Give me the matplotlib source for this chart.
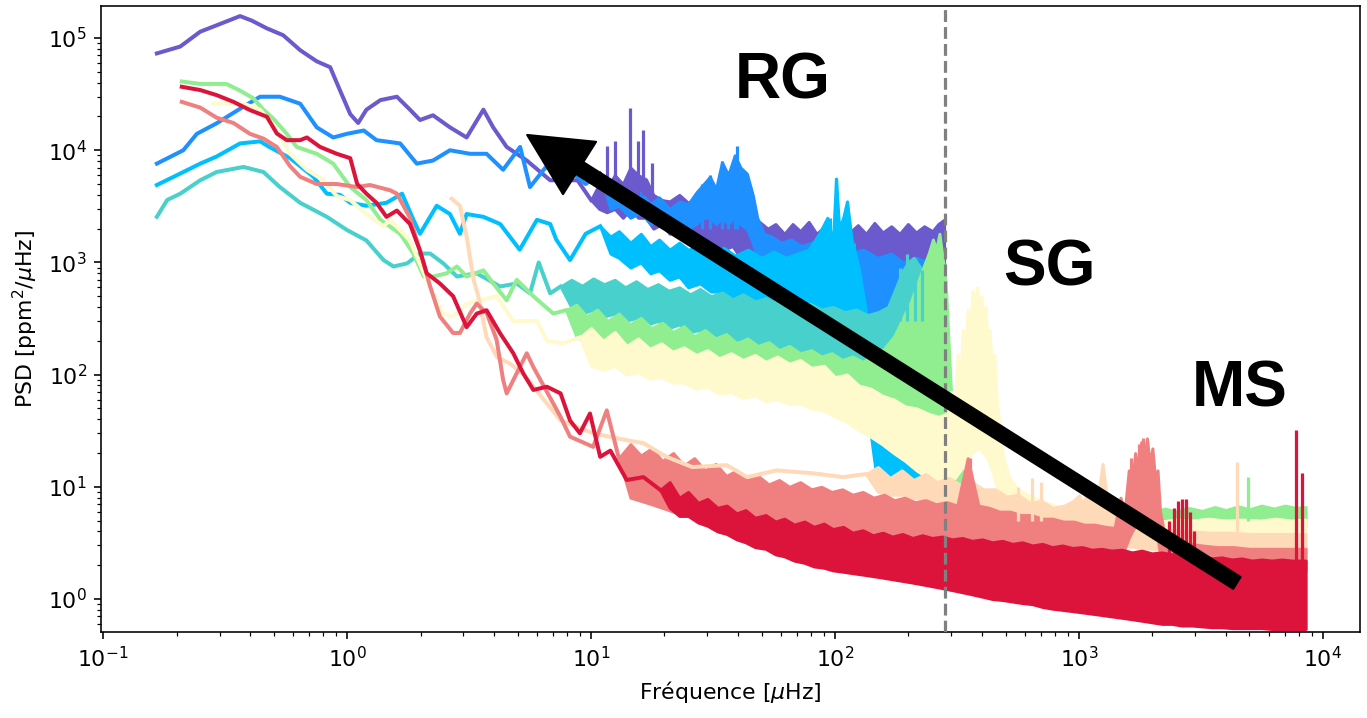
import matplotlib
matplotlib.use("Agg")
import matplotlib.pyplot as plt

# ---- colours, one per star (drawn in this order)
colors = ['slateblue', 'dodgerblue', 'deepskyblue', 'mediumturquoise',
          'lightgreen', 'lemonchiffon', 'peachpuff', 'lightcoral', 'crimson']

# ---- smoothed low-frequency part of each spectrum (freq in muHz, PSD)
purple_f = [0.166, 0.207, 0.25, 0.292, 0.364, 0.407, 0.469, 0.547, 0.642, 0.751, 0.852, 0.936, 1.03, 1.11,
            1.2, 1.37, 1.6, 1.81, 1.99, 2.25, 2.64, 3.09, 3.62, 3.97, 4.51, 5.45, 6.8, 8.8, 10]
purple_p = [7.3e4, 8.4e4, 1.14e5, 1.3e5, 1.57e5, 1.43e5, 1.22e5, 1.06e5, 7.8e4, 6.2e4, 5.5e4, 3.4e4, 2.1e4, 1.75e4,
            2.3e4, 2.8e4, 3e4, 2.3e4, 1.86e4, 2.05e4, 1.6e4, 1.3e4, 2.3e4, 1.6e4, 1.07e4, 8.1e3, 5.4e3, 5.4e3, 3.6e3]

dodger_f = [0.166, 0.213, 0.242, 0.292, 0.376, 0.44, 0.53, 0.642, 0.751, 0.877, 0.997, 1.17, 1.32, 1.65, 1.93,
            2.25, 2.64, 3.19, 3.73, 4.36, 5.12, 5.62, 6.5, 7.95, 9.5, 10.9]
dodger_p = [7.6e3, 1e4, 1.4e4, 1.74e4, 2.45e4, 3e4, 3e4, 2.6e4, 1.6e4, 1.3e4, 1.4e4, 1.5e4, 1.23e4, 1.15e4, 7.6e3,
            8.1e3, 1e4, 9.3e3, 9.3e3, 6.7e3, 1.07e4, 4.7e3, 7e3, 7e3, 5e3, 6.2e3]

deepsky_f = [0.166, 0.207, 0.25, 0.292, 0.364, 0.44, 0.48, 0.584, 0.728, 0.826, 0.936, 1.03, 1.2, 1.45, 1.68,
             1.87, 1.99, 2.33, 2.64, 2.9, 3.09, 3.62, 4.24, 5.1, 6.0, 6.8, 7.2, 8.2, 9.5, 10.9]
deepsky_p = [4.9e3, 6.2e3, 7.6e3, 8.8e3, 1.15e4, 1.2e4, 1.07e4, 8.5e3, 5.8e3, 4.1e3, 4e3, 3.4e3, 3.2e3, 3.4e3, 4.1e3,
             2.4e3, 1.8e3, 3.2e3, 2.7e3, 1.8e3, 2.7e3, 2.55e3, 2.2e3, 1.3e3, 2.4e3, 2.2e3, 1.6e3, 1.05e3, 1.8e3, 2.1e3]

turq_f = [0.166, 0.183, 0.207, 0.25, 0.292, 0.376, 0.454, 0.53, 0.642, 0.826, 0.997, 1.2, 1.41, 1.55, 1.76,
          1.99, 2.19, 2.48, 2.82, 3.4, 4.24, 4.96, 5.62, 6.1, 6.8, 7.5]
turq_p = [2.55e3, 3.6e3, 4.1e3, 5.4e3, 6.4e3, 7.1e3, 6.4e3, 4.7e3, 3.4e3, 2.55e3, 1.95e3, 1.57e3, 1.05e3, 920, 980,
          1.2e3, 1.2e3, 980, 750, 800, 610, 650, 530, 1.0e3, 530, 610]

green_f = [0.21, 0.25, 0.32, 0.364, 0.413, 0.454, 0.5, 0.566, 0.622, 0.751, 0.877, 1.03, 1.2, 1.37, 1.65, 1.87,
           2.06, 2.26, 2.56, 2.82, 3.09, 3.62, 3.97, 4.51, 4.96, 5.8, 7.0, 7.9]
green_p = [4.1e4, 3.9e4, 3.9e4, 3.4e4, 2.9e4, 2.3e4, 1.9e4, 1.4e4, 1.07e4, 9.3e3, 7.6e3, 4.7e3, 3.6e3, 2.4e3, 1.8e3,
           1.2e3, 750, 750, 800, 920, 750, 850, 650, 460, 700, 500, 350, 375]

yellow_f = [0.282, 0.376, 0.44, 0.515, 0.584, 0.684, 0.8, 0.907, 1.03, 1.2, 1.41, 1.5, 1.81, 2.12, 2.47, 2.72,
            3.1, 3.5, 4.1, 4.8, 6.0, 6.6, 7.7, 9.0]
yellow_p = [2.6e4, 2.6e4, 2.3e4, 1.5e4, 9.3e3, 6.7e3, 5.4e3, 3.9e3, 3.6e3, 2.7e3, 2.1e3, 2.4e3, 1.57e3, 700, 350, 330,
            430, 460, 500, 300, 300, 200, 190, 215]

peach_f = [2.68, 2.9, 3.09, 3.3, 3.45, 3.73, 4.12, 4.66, 5.3, 7.5, 10.2, 14, 16.4, 20.4, 26, 36, 43.6, 57.6, 81,
           108, 134]
peach_p = [3.7e3, 3.2e3, 1.7e3, 700, 500, 215, 143, 125, 100, 39, 30, 26, 24.5, 18.5, 15, 15.6, 12.2, 14, 13.2,
           12.2, 13]

salmon_f = [0.21, 0.25, 0.292, 0.342, 0.4, 0.454, 0.515, 0.584, 0.642, 0.751, 0.907, 1.1, 1.24, 1.5, 1.6, 1.81,
            1.99, 2.19, 2.4, 2.72, 2.9, 3.19, 3.4, 3.74, 4.1, 4.36, 4.51, 4.96, 5.45, 5.8, 7.5, 8.2, 10.2, 11.6, 13]
salmon_p = [2.7e4, 2.4e4, 1.95e4, 1.75e4, 1.4e4, 1.27e4, 1.07e4, 7.2e3, 5.8e3, 5e3, 5e3, 4.7e3, 4.9e3, 4.4e3, 4.1e3,
            2.5e3, 1.27e3, 610, 330, 235, 235, 350, 430, 350, 205, 90, 68, 103, 155, 117, 42, 28, 22.7, 48, 18]

red_f = [0.21, 0.25, 0.292, 0.342, 0.4, 0.469, 0.515, 0.566, 0.642, 0.684, 0.775, 0.907, 1.03, 1.1, 1.2, 1.32,
         1.45, 1.6, 1.81, 1.99, 2.12, 2.4, 2.72, 3.09, 3.4, 3.73, 4.24, 4.8, 5.28, 5.8, 6.59, 7.5, 8.2, 9.0, 9.9,
         10.9, 12, 14, 16.4, 19.2]
red_p = [3.68e4, 3.44e4, 3.1e4, 2.7e4, 2.28e4, 1.99e4, 1.41e4, 1.23e4, 1.23e4, 1.3e4, 1.07e4, 9.3e3, 8.5e3, 5e3,
         4.1e3, 3.4e3, 2.55e3, 2.9e3, 2.2e3, 1.27e3, 800, 650, 500, 265, 350, 375, 233, 155, 102, 73, 78, 68, 39, 30,
         45, 18.5, 21, 11.5, 12.2, 9.4]

# ---- noisy high-frequency part: lower / upper envelope of each spectrum
purple_bf = [10, 10.8, 11.6, 12.5, 13.5, 14.5, 15.6, 16.8, 18, 19.5, 21, 23, 25, 27, 29, 32, 35, 38, 41, 45, 49, 53,
             57, 62, 67, 72, 78, 84, 91, 98, 106, 115, 124, 134, 145, 157, 170, 184, 199, 215, 232, 251, 265, 280]
purple_hi = [3600, 5000, 4500, 6000, 5000, 7000, 6000, 5500, 4000, 3600, 3500, 4000, 3400, 3800, 3200, 3500, 3000,
             3300, 2800, 2600, 2300, 2000, 2200, 1800, 2200, 1900, 2300, 1800, 2100, 1750, 2200, 1850, 2150, 1800,
             2250, 1850, 2100, 1800, 2200, 1850, 2100, 1900, 2200, 2400]
purple_lo = [3600, 3000, 2800, 3000, 2500, 3000, 2500, 2500, 2000, 2200, 1800, 2000, 1600, 1800, 1500, 1500, 1300,
             1400, 1100, 1100, 900, 800, 950, 700, 850, 720, 880, 650, 800, 700, 850, 650, 780, 700, 850, 650, 800,
             700, 820, 650, 780, 720, 800, 850]

dodger_bf = [10.9, 12, 13, 14.5, 16, 17.5, 19, 21, 23, 25, 27, 28.5, 30.7, 32.5, 34.4, 36.5, 38.8, 41, 43.5, 46, 48,
             51, 55, 60, 66, 73, 80, 90, 100, 115, 130, 150, 170, 190, 215, 240, 260, 280]
dodger_hi = [6200, 4000, 4800, 3500, 4200, 3300, 3800, 3000, 3500, 3300, 4200, 4800, 5800, 4500, 7800, 6000, 9000,
             7000, 6200, 4000, 2500, 1800, 1700, 1500, 1600, 1400, 1500, 1300, 1400, 1200, 1300, 1100, 1200, 1000,
             1100, 1000, 1000, 1000]
dodger_lo = [6200, 3000, 3200, 2500, 2800, 2200, 2500, 2000, 2200, 2000, 2200, 2500, 2500, 2200, 2500, 2200, 2600,
             2200, 2000, 1500, 1100, 800, 700, 650, 600, 500, 480, 420, 400, 350, 320, 280, 250, 230, 220, 210, 230,
             250]

deepsky_bf = [10.9, 12, 13, 14.5, 16, 17.5, 19, 21, 23, 25, 28, 31, 35, 39, 44, 50, 56, 63, 70, 78, 86, 93, 98, 101,
              104, 108, 112, 117, 125, 133, 140, 146, 152, 160, 170, 180, 195, 210, 225, 245, 265, 280]
deepsky_hi = [2100, 1700, 1900, 1500, 1800, 1400, 1600, 1300, 1500, 1300, 1400, 1200, 1350, 1150, 1300, 1100, 1250,
              1100, 1200, 1300, 1800, 2500, 1500, 5600, 2000, 2500, 3500, 1600, 900, 400, 150, 40, 28, 30, 25, 28, 22,
              25, 20, 22, 18, 18]
deepsky_lo = [2100, 1200, 1100, 900, 1000, 800, 850, 700, 750, 600, 650, 550, 550, 480, 500, 420, 420, 380, 360, 330,
              300, 280, 270, 260, 250, 240, 220, 200, 150, 80, 30, 15, 12, 11, 11, 10, 9.5, 9, 9, 8.5, 8, 8]

turq_bf = [7.5, 8.3, 9.2, 10.2, 11.3, 12.5, 13.8, 15.3, 17, 18.8, 20.8, 23, 25.5, 28, 31, 34.5, 38, 42, 47, 52, 58,
           64, 71, 79, 88, 98, 110, 122, 136, 150, 165, 178, 190, 200, 210, 220, 232, 245, 258, 270, 280]
turq_hi = [610, 700, 620, 720, 640, 700, 600, 680, 580, 640, 560, 600, 520, 580, 500, 540, 470, 520, 450, 480, 430,
           460, 410, 430, 380, 400, 360, 380, 340, 360, 400, 600, 850, 1000, 1100, 950, 800, 600, 480, 420, 400]
turq_lo = [610, 400, 350, 380, 330, 350, 300, 320, 280, 300, 260, 280, 240, 250, 220, 230, 200, 210, 190, 190, 170,
           175, 160, 160, 145, 145, 130, 130, 120, 115, 110, 120, 140, 150, 150, 140, 130, 120, 110, 105, 100]

green_bf = [7.9, 8.7, 9.6, 10.6, 11.7, 13, 14.4, 16, 17.7, 19.6, 21.7, 24, 26.5, 29.3, 32.4, 35.8, 39.6, 43.8, 48.4,
            53.5, 59, 65, 72, 80, 88, 97, 107, 118, 130, 144, 159, 175, 190, 205, 218, 230, 242, 252, 260, 268, 276,
            284, 292, 300, 315, 340, 380, 430, 480, 530, 600, 680, 770, 870, 980, 1100, 1250, 1400, 1600, 1800, 2000,
            2250, 2500, 2800, 3200, 3600, 4000, 4500, 5000, 5600, 6300, 7000, 7700, 8500]
green_hi = [375, 420, 330, 380, 300, 350, 280, 320, 260, 290, 240, 270, 220, 250, 210, 230, 190, 210, 180, 195, 165,
            180, 155, 165, 145, 155, 135, 145, 130, 150, 170, 220, 320, 450, 650, 900, 1200, 1600, 1300, 1800, 1100,
            700, 200, 60, 20, 12, 9, 8, 7.6, 7.3, 6.8, 6.5, 6.2, 5.9, 5.8, 5.7, 5.9, 6.2, 5.8, 6.3, 5.9, 6.4, 6.0,
            6.5, 6.1, 6.6, 6.2, 6.7, 6.3, 6.8, 6.4, 6.8, 6.5, 6.6]
green_lo = [375, 220, 190, 200, 170, 180, 150, 160, 135, 140, 120, 125, 110, 112, 100, 100, 90, 90, 82, 82, 75, 75,
            68, 68, 62, 60, 56, 54, 50, 48, 45, 42, 40, 40, 38, 38, 36, 35, 34, 34, 35, 25, 15, 10, 8, 6, 5.5, 5.2,
            5, 4.8, 4.6, 4.5, 4.4, 4.3, 4.3, 4.3, 4.3, 4.3, 4.3, 4.3, 4.3, 4.3, 4.3, 4.4, 4.4, 4.4, 4.4, 4.4, 4.4,
            4.4, 4.4, 4.4, 4.4, 4.4]

yellow_bf = [9, 10, 11.2, 12.5, 14, 15.6, 17.4, 19.4, 21.6, 24, 27, 30, 33.5, 37.5, 42, 47, 52, 58, 65, 72, 80, 90,
             100, 112, 125, 140, 156, 174, 194, 216, 240, 265, 290, 300, 310, 318, 326, 334, 342, 350, 358, 366, 374,
             382, 390, 398, 406, 414, 422, 430, 440, 450, 460, 470, 490, 520, 560, 620, 700, 800, 920, 1050, 1200,
             1400, 1600, 1850, 2150, 2500, 2900, 3400, 4000, 4700, 5500, 6400, 7400, 8500]
yellow_hi = [215, 260, 200, 240, 180, 210, 170, 190, 160, 175, 150, 165, 140, 155, 135, 150, 130, 145, 125, 135, 115,
             120, 95, 100, 80, 75, 65, 60, 52, 50, 45, 42, 45, 70, 50, 150, 90, 250, 160, 380, 250, 560, 420, 600,
             380, 500, 300, 400, 200, 250, 120, 150, 60, 40, 18, 12, 9.5, 8.5, 7.5, 6.8, 6.2, 5.6, 5.3, 5.2, 5.0, 5.1,
             4.9, 5.1, 5.0, 5.2, 5.0, 5.1, 5.0, 5.2, 5.0, 5.1]
yellow_lo = [215, 120, 110, 120, 100, 105, 92, 95, 85, 85, 75, 78, 68, 70, 62, 65, 58, 60, 55, 55, 50, 48, 42, 38, 32,
             28, 24, 20, 17, 14, 12, 11, 11, 12, 12, 13, 14, 15, 16, 18, 19, 20, 21, 22, 22, 21, 20, 19, 18, 16, 14,
             12, 10, 8, 6.5, 5.5, 4.8, 4.3, 4.0, 3.8, 3.6, 3.4, 3.3, 3.3, 3.3, 3.3, 3.3, 3.3, 3.3, 3.3, 3.4, 3.4, 3.4,
             3.4, 3.4, 3.4]

peach_bf = [134, 150, 168, 188, 210, 235, 262, 292, 326, 364, 406, 453, 505, 563, 628, 700, 780, 870, 950, 1000,
            1040, 1080, 1120, 1160, 1200, 1250, 1300, 1380, 1500, 1700, 2000, 2400, 2900, 3500, 4200, 5000, 6000,
            7200, 8500]
peach_hi = [13, 15, 12, 14, 11.5, 13, 11, 12, 10.5, 11, 9.5, 9.5, 8.2, 8.5, 7.2, 7.5, 6.5, 6.8, 7.5, 8.4, 7, 9, 8,
            10, 8.5, 16, 8, 6, 5, 4.5, 4.3, 4.1, 4.0, 3.9, 3.9, 3.8, 3.8, 3.8, 3.8]
peach_lo = [13, 9, 8.5, 8.5, 8, 7.8, 7.5, 7, 6.5, 6.2, 5.8, 5.5, 5, 4.7, 4.3, 4, 3.8, 3.6, 3.5, 3.5, 3.5, 3.5, 3.5,
            3.5, 3.5, 3.5, 3.4, 3.2, 3, 2.9, 2.8, 2.7, 2.7, 2.6, 2.6, 2.6, 2.6, 2.6, 2.6]

salmon_bf = [13, 14.5, 16, 17.7, 19.6, 21.7, 24, 26.5, 29.3, 32.4, 35.8, 39.6, 43.8, 48.4, 53.5, 59, 65, 72, 80, 88,
             97, 107, 118, 130, 144, 159, 175, 193, 213, 235, 260, 287, 317, 350, 387, 428, 473, 523, 578, 640, 707,
             780, 862, 953, 1050, 1160, 1280, 1400, 1480, 1540, 1600, 1650, 1700, 1750, 1800, 1850, 1900, 1950, 2000,
             2050, 2100, 2150, 2250, 2500, 2800, 3200, 3700, 4300, 5000, 5800, 6700, 7600, 8500]
salmon_hi = [18, 24, 19, 22, 17, 20, 15.5, 18, 14, 16, 12.5, 14, 11.5, 12.5, 10.5, 11.5, 10, 11, 9.5, 10, 9, 9.5, 8.5,
             9, 8, 8.5, 7.6, 8, 7.3, 7.6, 7, 7.3, 6.8, 18, 6.8, 6.5, 6, 6, 5.6, 5.6, 5.2, 5.2, 4.9, 4.9, 4.6, 4.6,
             4.4, 4.3, 8, 6, 14, 10, 20, 14, 25, 18, 27, 16, 22, 12, 14, 6, 3.6, 3.3, 3.1, 3.0, 2.9, 2.9, 2.8, 2.8,
             2.8, 2.8, 2.8]
salmon_lo = [18, 8, 7.5, 7, 6.5, 6, 5.7, 5.4, 5, 4.8, 4.5, 4.3, 4, 3.8, 3.6, 3.5, 3.4, 3.3, 3.2, 3.1, 3, 2.95, 2.9,
             2.85, 2.8, 2.75, 2.7, 2.65, 2.6, 2.6, 2.55, 2.5, 2.5, 2.5, 2.45, 2.4, 2.4, 2.35, 2.3, 2.3, 2.25, 2.2, 2.2,
             2.15, 2.1, 2.1, 2.05, 2.0, 2.5, 2.8, 3.5, 4, 4.5, 5, 5.5, 5.5, 6, 5.5, 5, 4.5, 3.5, 2.5, 1.9, 1.85, 1.8,
             1.8, 1.8, 1.8, 1.8, 1.8, 1.8, 1.8, 1.8]

red_bf = [19.2, 21, 23, 25, 27.5, 30, 33, 36, 39.5, 43, 47, 52, 57, 62, 68, 75, 82, 90, 98, 108, 118, 130, 143, 157,
          172, 189, 208, 228, 250, 275, 302, 332, 365, 401, 441, 485, 533, 586, 644, 708, 778, 855, 940, 1030, 1130,
          1240, 1360, 1500, 1650, 1810, 1990, 2190, 2400, 2640, 2900, 3190, 3500, 3850, 4230, 4650, 5110, 5620, 6180,
          6790, 7460, 8200, 8500]
red_hi = [9.4, 11, 8, 9, 7.2, 7.8, 6.5, 6.8, 5.8, 6.2, 5.3, 5.6, 4.9, 5.2, 4.6, 4.9, 4.4, 4.7, 4.2, 4.4, 3.9, 4.1, 3.7,
          3.9, 3.6, 3.8, 3.5, 3.7, 3.5, 3.6, 3.4, 3.5, 3.3, 3.4, 3.2, 3.3, 3.1, 3.2, 3.0, 3.1, 2.9, 3.0, 2.85, 2.9,
          2.75, 2.8, 2.7, 2.75, 2.6, 2.7, 2.55, 2.6, 2.5, 2.55, 2.45, 2.4, 2.3, 2.35, 2.25, 2.3, 2.2, 2.25, 2.2, 2.25,
          2.2, 2.2, 2.2]
red_lo = [9.4, 6.5, 5.5, 5.5, 4.8, 4.5, 4.0, 3.8, 3.4, 3.2, 2.9, 2.8, 2.5, 2.4, 2.2, 2.1, 1.95, 1.9, 1.8, 1.75, 1.7,
          1.65, 1.6, 1.55, 1.5, 1.45, 1.4, 1.35, 1.3, 1.25, 1.2, 1.15, 1.1, 1.05, 1.0, 0.98, 0.95, 0.92, 0.9, 0.85,
          0.82, 0.8, 0.78, 0.76, 0.74, 0.72, 0.7, 0.68, 0.66, 0.64, 0.62, 0.6, 0.6, 0.58, 0.58, 0.57, 0.56, 0.56, 0.55,
          0.55, 0.55, 0.55, 0.54, 0.54, 0.54, 0.54, 0.54]

# ---- oscillation modes / single peaks (freq, base, top)
purple_sf = [11.6, 12.5, 14.5, 15.6, 16.4, 17.8]
purple_sb = [4000, 4000, 4000, 4000, 4000, 4000]
purple_st = [1.1e4, 1.2e4, 2.4e4, 1.2e4, 1.5e4, 7.7e3]

dodger_sf = [28.5, 30.7, 34.4, 36.5, 38.8, 39.7, 43.5]
dodger_sb = [2000, 2000, 2000, 2000, 2000, 2000, 2000]
dodger_st = [5e3, 6e3, 8e3, 6.5e3, 9e3, 1.1e4, 6e3]

deepsky_sf = [90, 95, 101, 106, 112, 120]
deepsky_sb = [500, 500, 500, 500, 500, 500]
deepsky_st = [1800, 2500, 5600, 2000, 3500, 1500]

turq_sf = [185, 198, 212, 228]
turq_sb = [300, 300, 300, 300]
turq_st = [900, 1200, 1100, 850]

green_sf = [4930]
green_sb = [5]
green_st = [12.2]

peach_sf = [560, 640, 700, 4450]
peach_sb = [5, 5, 5, 3]
peach_st = [10, 12, 11, 16.6]

salmon_sf = [356, 1640, 1760, 1830, 1900, 2000]
salmon_sb = [5, 5, 5, 5, 5, 5]
salmon_st = [18, 18, 24, 27, 25, 20]

red_sf = [2350, 2450, 2550, 2650, 2750, 2850, 2950, 7750, 8200]
red_sb = [2, 2, 2, 2, 2, 2, 2, 2, 2]
red_st = [5, 6.5, 7.5, 7.8, 7.8, 6, 4, 32, 13.3]

nyquist = 283
region_labels = ['RG', 'SG', 'MS']
region_x = [61, 760, 4570]
region_y = [4.06e4, 890, 73]
arrow_tail = (4443, 1.39)
arrow_head = (5.47, 1.37e4)

stars = [
    (purple_f, purple_p, purple_bf, purple_lo, purple_hi, purple_sf, purple_sb, purple_st),
    (dodger_f, dodger_p, dodger_bf, dodger_lo, dodger_hi, dodger_sf, dodger_sb, dodger_st),
    (deepsky_f, deepsky_p, deepsky_bf, deepsky_lo, deepsky_hi, deepsky_sf, deepsky_sb, deepsky_st),
    (turq_f, turq_p, turq_bf, turq_lo, turq_hi, turq_sf, turq_sb, turq_st),
    (green_f, green_p, green_bf, green_lo, green_hi, green_sf, green_sb, green_st),
    (yellow_f, yellow_p, yellow_bf, yellow_lo, yellow_hi, [], [], []),
    (peach_f, peach_p, peach_bf, peach_lo, peach_hi, peach_sf, peach_sb, peach_st),
    (salmon_f, salmon_p, salmon_bf, salmon_lo, salmon_hi, salmon_sf, salmon_sb, salmon_st),
    (red_f, red_p, red_bf, red_lo, red_hi, red_sf, red_sb, red_st),
]

fig = plt.figure(figsize=(1367 / 144, 718 / 144), dpi=144)
ax = fig.add_axes([0.0739, 0.1198, 0.921, 0.8718])

for c, (f, p, bf, lo, hi, sf, sb, st) in zip(colors, stars):
    ax.fill_between(bf, lo, hi, color=c, lw=1.5, ec=c)
    if sf:
        ax.vlines(sf, sb, st, colors=c, lw=1.6)
    ax.plot(f, p, color=c, lw=2.0)

ax.set_xscale('log')
ax.set_yscale('log')
ax.set_xlim(0.098, 14200)
ax.set_ylim(0.508, 1.93e5)

ax.axvline(nyquist, color='gray', ls='--', lw=1.6, zorder=5)

for lab, x, y in zip(region_labels, region_x, region_y):
    ax.text(x, y, lab, fontsize=32, fontweight='bold', family='Liberation Sans',
            ha='center', va='center', zorder=6)

ax.annotate('', xy=arrow_head, xytext=arrow_tail,
            arrowprops=dict(facecolor='black', edgecolor='black', width=7, headwidth=31,
                            headlength=31, shrink=0.0), zorder=7)

ax.tick_params(labelsize=11)
ax.set_xlabel(r'Fréquence [$\mu$Hz]', fontsize=11)
ax.set_ylabel(r'PSD [ppm$^2$/$\mu$Hz]', fontsize=11)

fig.savefig('out.png', dpi=144)
